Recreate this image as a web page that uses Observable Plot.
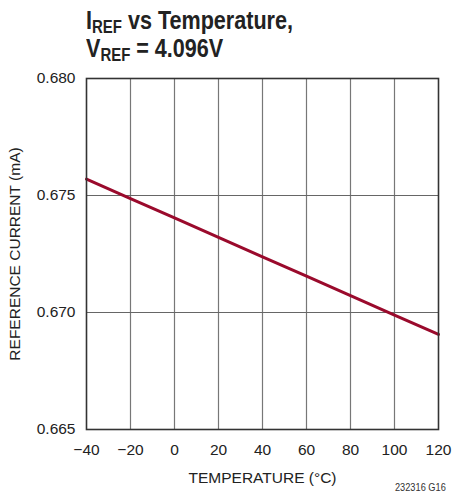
<!DOCTYPE html>
<html><head><meta charset="utf-8">
<script src="https://cdn.jsdelivr.net/npm/d3@7"></script>
<script src="https://cdn.jsdelivr.net/npm/@observablehq/plot@0.6"></script>
<style>
body{margin:0;background:#fff;}
#wrap{position:relative;width:454px;height:493px;font-family:"Liberation Sans",Arial,sans-serif;}
#title{position:absolute;left:86px;top:6px;font-family:"Liberation Sans",Arial,sans-serif;font-weight:bold;font-size:26px;line-height:28px;color:#222;transform:scaleX(0.83);transform-origin:left top;white-space:nowrap;}
#title sub{font-size:18px;vertical-align:-4px;line-height:0;}
#chart{position:absolute;left:0;top:70px;}
#note{position:absolute;right:8px;top:481px;font-size:10.5px;color:#333;font-family:"Liberation Sans",sans-serif;transform:scaleX(0.88);transform-origin:right top;}
</style></head>
<body><div id="wrap">
<div id="title">I<sub>REF</sub> vs Temperature,<br>V<sub>REF</sub> = 4.096V</div>
<div id="chart"></div>
<div id="note">232316 G16</div>
</div>
<script>
const temps = [-40, -20, 0, 20, 40, 60, 80, 100, 120];
const current = [0.6757, 0.67487, 0.67404, 0.67321, 0.67238, 0.67155, 0.67072, 0.66989, 0.66906];
const xTicks = [-40, -20, 0, 20, 40, 60, 80, 100, 120];
const yTicks = [0.665, 0.670, 0.675, 0.680];
const data = temps.map((t, i) => ({t, c: current[i]}));
const fmtX = d => d < 0 ? "\u2212" + Math.abs(d) : String(d);
const plot = Plot.plot({
  width: 454, height: 423,
  marginLeft: 86, marginRight: 16, marginTop: 8, marginBottom: 64,
  style: {fontFamily: '"Liberation Sans", Arial, sans-serif', fontSize: "15.5px", color: "#222", background: "#fff"},
  x: {domain: [-40, 120], ticks: xTicks, tickFormat: fmtX, tickSize: 0, tickPadding: 14,
      label: "TEMPERATURE (°C)", labelAnchor: "center", labelArrow: "none", labelOffset: 53},
  y: {domain: [0.665, 0.680], ticks: yTicks, tickFormat: d3.format(".3f"), tickSize: 0, tickPadding: 11,
      label: "REFERENCE CURRENT (mA)", labelAnchor: "center", labelArrow: "none", labelOffset: 78},
  marks: [
    Plot.ruleX(xTicks.slice(1, -1), {stroke: "#777", strokeWidth: 1.2}),
    Plot.ruleY(yTicks.slice(1, -1), {stroke: "#666", strokeWidth: 1.2}),
    Plot.line(data, {x: "t", y: "c", stroke: "#9a0a2c", strokeWidth: 3}),
    Plot.frame({stroke: "#333", strokeWidth: 1.6})
  ]
});
document.getElementById("chart").appendChild(plot);
</script>
</body></html>
